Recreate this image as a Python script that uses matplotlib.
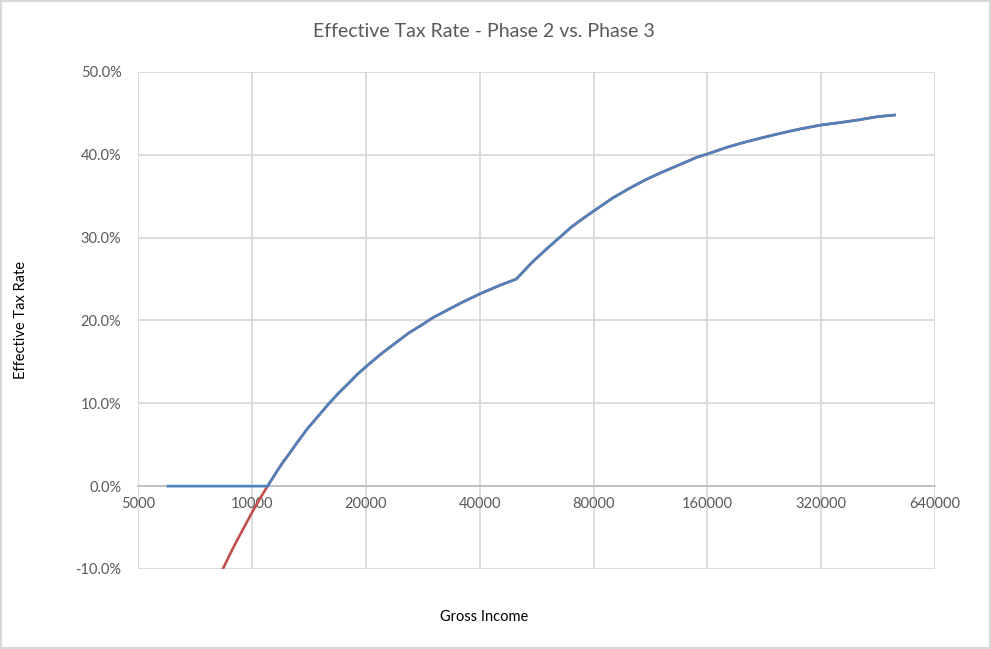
import matplotlib.pyplot as plt
from matplotlib.patches import Rectangle
from matplotlib.ticker import FixedLocator, FuncFormatter

plt.rcParams['font.family'] = ['Lato', 'DejaVu Sans']

# gross income samples and effective rates (%)
income = [6000, 6500, 7000, 7500, 8000, 8500, 9000, 9500, 10000, 10500,
          11000, 11500, 12000, 12500, 13000, 14000, 15000, 16000, 17000, 18000,
          19000, 20000, 22000, 24000, 26000, 28000, 30000, 33000, 36000, 40000,
          45000, 50000, 55000, 60000, 65000, 70000, 75000, 80000, 90000, 100000,
          110000, 120000, 135000, 150000, 160000, 180000, 200000, 225000, 250000,
          280000, 320000, 360000, 400000, 450000, 500000]
phase2 = [-26.7, -22.2, -18.3, -14.9, -12.0, -9.4, -7.1, -5.1, -3.2, -1.5,
          0.0, 1.4, 2.7, 3.8, 4.9, 6.9, 8.5, 10.0, 11.3, 12.4,
          13.5, 14.4, 16.0, 17.3, 18.5, 19.4, 20.3, 21.3, 22.2, 23.2,
          24.2, 25.0, 27.0, 28.6, 30.0, 31.3, 32.3, 33.2, 34.8, 36.0,
          37.0, 37.8, 38.8, 39.7, 40.1, 40.9, 41.5, 42.1, 42.6,
          43.1, 43.6, 43.9, 44.2, 44.6, 44.8]
phase3 = [0.0, 0.0, 0.0, 0.0, 0.0, 0.0, 0.0, 0.0, 0.0, 0.0,
          0.0, 1.4, 2.7, 3.8, 4.9, 6.9, 8.5, 10.0, 11.3, 12.4,
          13.5, 14.4, 16.0, 17.3, 18.5, 19.4, 20.3, 21.3, 22.2, 23.2,
          24.2, 25.0, 27.0, 28.6, 30.0, 31.3, 32.3, 33.2, 34.8, 36.0,
          37.0, 37.8, 38.8, 39.7, 40.1, 40.9, 41.5, 42.1, 42.6,
          43.1, 43.6, 43.9, 44.2, 44.6, 44.8]
x_ticks = [5000, 10000, 20000, 40000, 80000, 160000, 320000, 640000]
y_ticks = [-10, 0, 10, 20, 30, 40, 50]

fig = plt.figure(figsize=(9.91, 6.49), dpi=100)
fig.patches.append(Rectangle((0.001, 0.001), 0.998, 0.997, transform=fig.transFigure,
                             fill=False, edgecolor='#d9d9d9', linewidth=1.5))
ax = fig.add_axes([0.1393, 0.1233, 0.8043, 0.7658])

ax.plot(income, phase2, color='#c0504d', linewidth=1.9, zorder=3)
ax.plot(income, phase3, color='#4f81bd', linewidth=1.9, zorder=4)

ax.set_xscale('log', base=2)
ax.set_xlim(5000, 640000)
ax.set_ylim(-10, 50)
ax.xaxis.set_major_locator(FixedLocator(x_ticks))
ax.xaxis.set_minor_locator(FixedLocator([]))
ax.xaxis.set_major_formatter(FuncFormatter(lambda v, p: f'{v:.0f}'))
ax.set_yticks(y_ticks)
ax.yaxis.set_major_formatter(FuncFormatter(lambda v, p: f'{v:.1f}%'))

ax.grid(True, color='#d9d9d9', linewidth=1.3)
ax.set_axisbelow(True)
for s in ['top', 'right', 'left']:
    ax.spines[s].set_visible(False)
ax.spines['bottom'].set_position(('data', 0))
ax.spines['bottom'].set_color('#bfbfbf')
ax.spines['bottom'].set_linewidth(1.3)
ax.spines['bottom'].set_zorder(2)
ax.tick_params(length=0, labelsize=10.5, labelcolor='#595959')
ax.tick_params(axis='x', pad=8)
ax.tick_params(axis='y', pad=12)

fig.text(0.4884, 0.951, 'Effective Tax Rate - Phase 2 vs. Phase 3', ha='center', va='center',
         fontsize=14, color='#595959')
fig.text(0.4884, 0.049, 'Gross Income', ha='center', va='center', fontsize=10.5, color='#000000')
fig.text(0.021, 0.507, 'Effective Tax Rate', ha='center', va='center', rotation=90,
         fontsize=10.5, color='#000000')

fig.savefig('out.png', dpi=100)
